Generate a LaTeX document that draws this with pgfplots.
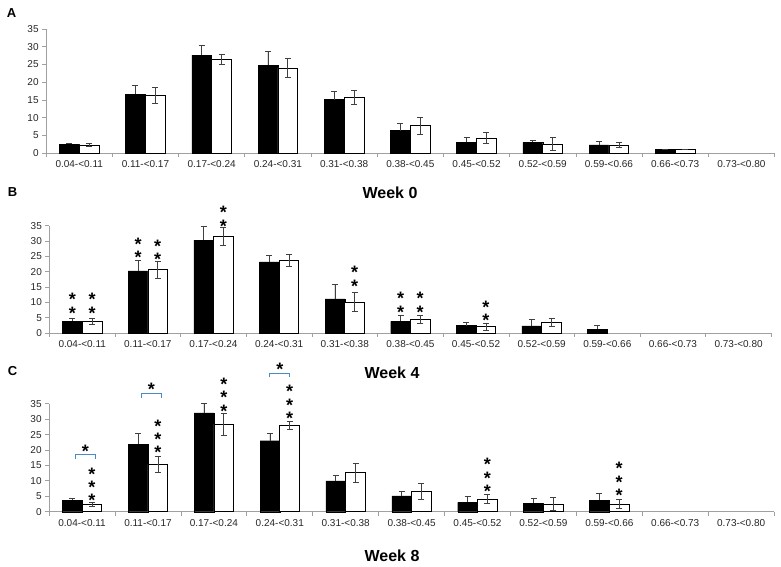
\documentclass[border=0pt]{standalone}
\usepackage{pgfplots}
\usepackage{pgfplotstable}
\pgfplotsset{compat=1.18}
\usepackage{fontspec}
\setmainfont{Liberation Sans}
\definecolor{errc}{HTML}{404040}
\definecolor{brk}{HTML}{4A8AC9}
\definecolor{axc}{HTML}{A0A0A0}

% Panel A (Week 0)
\pgfplotstableread{
c b be
0 2.4 0.4
1 16.6 2.4
2 27.6 2.9
3 24.8 3.9
4 15.1 2.4
5 6.3 2.2
6 3.0 1.5
7 3.0 0.6
8 2.3 1.0
9 1.1 0.0
}\Ablack
\pgfplotstableread{
c w we
0 2.3 0.5
1 16.3 2.3
2 26.5 1.4
3 24.0 2.7
4 15.8 2.0
5 7.8 2.4
6 4.2 1.5
7 2.5 1.8
8 2.3 0.6
9 1.1 0.0
}\Awhite
% Panel B (Week 4)
\pgfplotstableread{
c b be
0 3.8 1.1
1 20.3 3.4
2 30.3 4.6
3 23.2 2.2
4 11.1 4.7
5 3.8 2.1
6 2.4 1.1
7 2.3 2.2
8 1.3 1.1
}\Bblack
\pgfplotstableread{
c w we
0 3.7 1.0
1 20.7 2.8
2 31.5 2.8
3 23.6 2.0
4 10.1 3.2
5 4.3 1.3
6 2.1 1.2
7 3.4 1.3
}\Bwhite
% Panel C (Week 8)
\pgfplotstableread{
c b be
0 3.7 0.7
1 21.9 3.6
2 32.0 3.1
3 23.0 2.4
4 10.0 1.7
5 5.1 1.5
6 3.0 1.9
7 2.8 1.6
8 3.7 2.3
}\Cblack
\pgfplotstableread{
c w we
0 2.3 0.6
1 15.3 2.5
2 28.4 3.6
3 28.0 1.3
4 12.7 3.1
5 6.7 2.6
6 4.1 1.4
7 2.5 2.1
8 2.5 1.5
}\Cwhite

\pgfplotsset{
  panel/.style={
    scale only axis, anchor=south west,
    xmin=-0.5, xmax=10.5, ymin=0, ymax=35,
    axis x line=bottom, axis y line=left,
    axis line style={-, draw=axc, line width=0.7pt},
    tick style={draw=axc, line width=0.7pt},
    tick align=outside,
    major tick length=4pt, minor tick length=4pt,
    ytick={0,5,...,35},
    xtick={0,...,10},
    xticklabels={0.04-<0.11,0.11-<0.17,0.17-<0.24,0.24-<0.31,0.31-<0.38,0.38-<0.45,0.45-<0.52,0.52-<0.59,0.59-<0.66,0.66-<0.73,0.73-<0.80},
    major x tick style={draw=none},
    minor xtick={-0.5,0.5,...,10.5},
    clip=false,
    /pgf/number format/assume math mode=true,
    ticklabel style={font=\fontsize{10}{12}\selectfont, text=black!85},
  },
  blackbar/.style={ybar, bar width=0.3, bar shift=0pt, fill=black, draw=black,
    error bars/y dir=plus, error bars/y explicit,
    error bars/error bar style={draw=errc, line width=0.7pt},
    error bars/error mark options={rotate=90, mark size=3pt, draw=errc, line width=0.7pt}},
  whitebar/.style={ybar, bar width=0.3, bar shift=0pt, fill=white, draw=black, line width=0.7pt,
    error bars/y dir=both, error bars/y explicit,
    error bars/error bar style={draw=errc, line width=0.7pt},
    error bars/error mark options={rotate=90, mark size=3pt, draw=errc, line width=0.7pt}},
  stars/.style={draw=none, mark=none, nodes near coords, point meta=explicit symbolic,
    nodes near coords style={anchor=center, align=center, inner sep=0pt,
      font=\bfseries\fontsize{18}{12.3}\selectfont, text=black, yshift=-3pt}},
  bracket/.style={draw=brk, line width=0.9pt, mark=none},
}

\begin{document}
\begin{tikzpicture}
\useasboundingbox (0pt,0pt) rectangle (781pt,-567pt);

% ---------- Panel A ----------
\begin{axis}[panel, at={(46.1pt,-153pt)}, width=728.4pt, height=124pt]
\addplot[blackbar] table[x expr=\thisrow{c}-0.15, y=b, y error=be] {\Ablack};
\addplot[whitebar] table[x expr=\thisrow{c}+0.15, y=w, y error=we] {\Awhite};
\end{axis}

% ---------- Panel B ----------
\begin{axis}[panel, at={(49.4pt,-333pt)}, width=722pt, height=107.3pt]
\addplot[blackbar] table[x expr=\thisrow{c}-0.15, y=b, y error=be] {\Bblack};
\addplot[whitebar] table[x expr=\thisrow{c}+0.15, y=w, y error=we] {\Bwhite};
\addplot[stars] coordinates {
 (-0.15,9.65)[{*\\*}] (0.15,9.65)[{*\\*}]
 (0.85,27.7)[{*\\*}] (1.15,27.05)[{*\\*}]
 (2.15,38.05)[{*\\*}]
 (4.15,18.45)[{*\\*}]
 (4.85,10.05)[{*\\*}] (5.15,10.05)[{*\\*}]
 (6.15,7.15)[{*\\*}]
};
\end{axis}

% ---------- Panel C ----------
\begin{axis}[panel, at={(49.1pt,-511.7pt)}, width=725pt, height=108pt]
\addplot[blackbar] table[x expr=\thisrow{c}-0.15, y=b, y error=be] {\Cblack};
\addplot[whitebar] table[x expr=\thisrow{c}+0.15, y=w, y error=we] {\Cwhite};
\addplot[stars] coordinates {
 (0.15,8.9)[{*\\*\\*}]
 (1.15,24.4)[{*\\*\\*}]
 (2.15,37.9)[{*\\*\\*}]
 (3.15,35.5)[{*\\*\\*}]
 (6.15,11.9)[{*\\*\\*}]
 (8.15,10.6)[{*\\*\\*}]
 (0.05,20.4)[*] (1.05,40.5)[*] (3.0,47.0)[*]
};
\addplot[bracket] coordinates {(-0.1,17.1) (-0.1,18.4) (0.2,18.4) (0.2,17.1)};
\addplot[bracket] coordinates {(0.9,37.0) (0.9,38.4) (1.2,38.4) (1.2,37.0)};
\addplot[bracket] coordinates {(2.85,43.5) (2.85,44.8) (3.15,44.8) (3.15,43.5)};
\end{axis}

% ---------- Titles and panel letters ----------
\node[font=\bfseries\fontsize{13}{13}\selectfont] at (11.5pt,-13pt) {A};
\node[font=\bfseries\fontsize{13}{13}\selectfont] at (12.5pt,-192pt) {B};
\node[font=\bfseries\fontsize{13}{13}\selectfont] at (12.5pt,-371pt) {C};
\node[font=\bfseries\fontsize{16}{16}\selectfont] at (390pt,-193pt) {Week 0};
\node[font=\bfseries\fontsize{16}{16}\selectfont] at (392pt,-373pt) {Week 4};
\node[font=\bfseries\fontsize{16}{16}\selectfont] at (392pt,-556pt) {Week 8};
\end{tikzpicture}
\end{document}
